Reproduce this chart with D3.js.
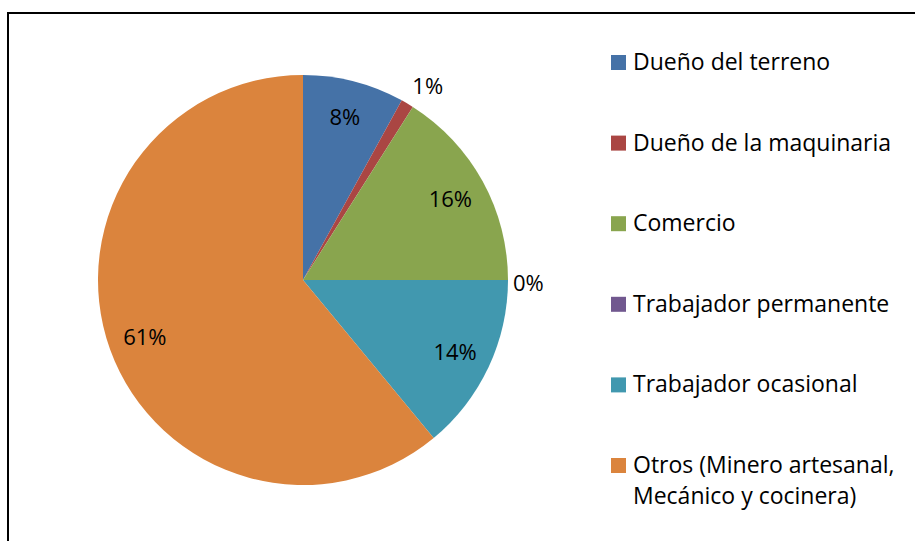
<!DOCTYPE html>
<html>
<head>
<meta charset="utf-8">
<script src="https://cdn.jsdelivr.net/npm/d3@7"></script>
<style>
  html, body { margin: 0; padding: 0; background: #fff; }
  svg { display: block; }
  text { font-family: "Open Sans", Lato, sans-serif; fill: #000; }
</style>
</head>
<body>
<svg id="chart" width="915" height="541"></svg>
<script>
const categories = [
  "Dueño del terreno",
  "Dueño de la maquinaria",
  "Comercio",
  "Trabajador permanente",
  "Trabajador ocasional",
  "Otros (Minero artesanal, Mecánico y cocinera)"
];
const legendLines = [
  ["Dueño del terreno"],
  ["Dueño de la maquinaria"],
  ["Comercio"],
  ["Trabajador permanente"],
  ["Trabajador ocasional"],
  ["Otros (Minero artesanal,", "Mecánico y cocinera)"]
];
const values = [8, 1, 16, 0, 14, 61];
const colors = ["#4572A7", "#AA4643", "#89A54E", "#71588F", "#4198AF", "#DB843D"];

const svg = d3.select("#chart");
const W = 915, H = 541;

// frame (top & left edges visible)
svg.append("rect")
  .attr("x", 8).attr("y", 13)
  .attr("width", W + 20).attr("height", H + 20)
  .attr("fill", "#fff").attr("stroke", "#000").attr("stroke-width", 2);

const cx = 303, cy = 280, r = 205;
const total = d3.sum(values);

const pie = d3.pie().sort(null).value(d => d);
const arcs = pie(values);
const arc = d3.arc().innerRadius(0).outerRadius(r);

const g = svg.append("g").attr("transform", `translate(${cx},${cy})`);

g.selectAll("path.slice")
  .data(arcs)
  .enter().append("path")
  .attr("class", "slice")
  .attr("d", arc)
  .attr("fill", (d, i) => colors[i]);

const fs = 22;
const legendFs = 23;
const labelArc = d3.arc().innerRadius(r * 0.82).outerRadius(r * 0.82);
const fmt = v => Math.round(v / total * 100) + "%";

arcs.forEach((d, i) => {
  const pct = d.value / total;
  const mid = (d.startAngle + d.endAngle) / 2;
  const txt = fmt(d.value);
  if (pct >= 0.05) {
    const [x, y] = labelArc.centroid(d);
    g.append("text")
      .attr("x", x).attr("y", y + 8)
      .attr("text-anchor", "middle")
      .attr("font-size", fs)
      .text(txt);
  } else {
    // outside label
    const ex = r * Math.sin(mid), ey = -r * Math.cos(mid);
    const t = g.append("text")
      .attr("font-size", fs)
      .attr("text-anchor", "middle")
      .text(txt);
    const w = t.node().getComputedTextLength();
    const s = Math.sin(mid) >= 0 ? 1 : -1;
    const x = ex + s * (w / 2 + 5);
    const y = ey - Math.cos(mid) * 24 + 3;
    t.attr("x", x).attr("y", y + 8);
  }
});

// legend
const lx = 611, ltx = 633, ly0 = 70, lstep = 80.6, lineH = 31;
const lg = svg.append("g");
legendLines.forEach((lines, i) => {
  const by = ly0 + i * lstep;
  lg.append("rect")
    .attr("x", lx).attr("y", by - 15)
    .attr("width", 15).attr("height", 15)
    .attr("fill", colors[i]);
  const t = lg.append("text")
    .attr("x", ltx).attr("y", by)
    .attr("font-size", legendFs);
  lines.forEach((ln, j) => {
    t.append("tspan").attr("x", ltx).attr("y", by + j * lineH).text(ln);
  });
});
</script>
</body>
</html>
